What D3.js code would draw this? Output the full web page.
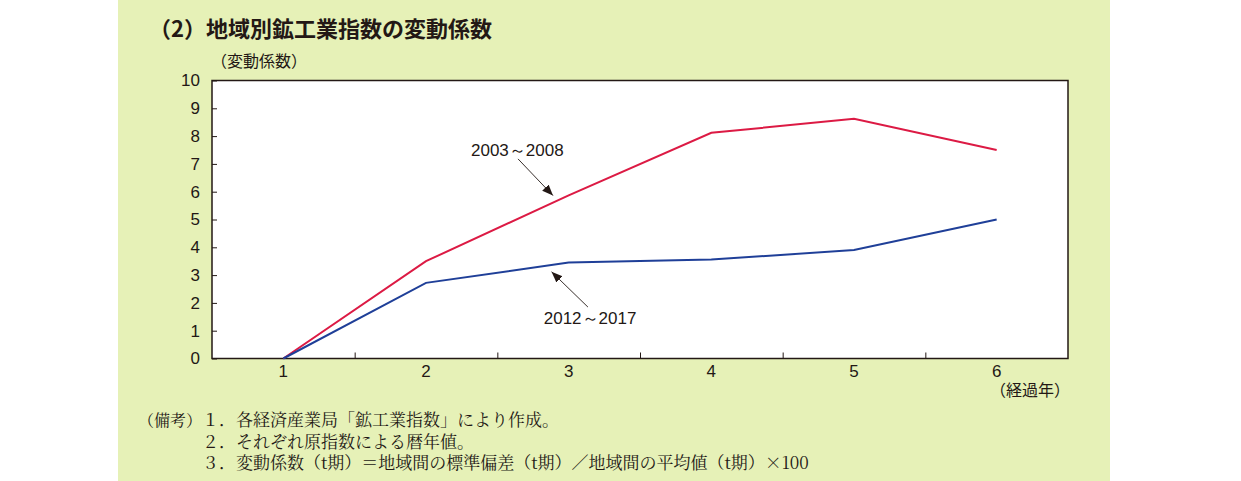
<!DOCTYPE html>
<html>
<head>
<meta charset="utf-8">
<script src="https://cdn.jsdelivr.net/npm/d3@7"></script>
<style>
  body { margin: 0; background: #fff; }
  svg text { fill: #231815; }
  .num { font-family: "Liberation Sans", Arial, sans-serif; font-size: 17px; }
  .jp  { font-family: "Noto Sans CJK JP", sans-serif; }
  .note { font-family: "Noto Serif CJK JP", "Noto Sans CJK JP", serif; font-size: 17px; }
</style>
</head>
<body>
<svg id="chart" width="1241" height="481"></svg>
<script>
// data
const years    = [1, 2, 3, 4, 5, 6];
const s2003    = [0, 3.5, 5.87, 8.12, 8.62, 7.5];
const s2012    = [0, 2.72, 3.45, 3.56, 3.9, 5.0];
const yTicks   = [0, 1, 2, 3, 4, 5, 6, 7, 8, 9, 10];
const xMinor   = [1.5, 2.5, 3.5, 4.5, 5.5];
const seriesNames = ["2003～2008", "2012～2017"];
// annotation positions in data units: label x,y / arrow from / arrow to
const annLabel = [[2.64, 7.28], [3.15, 1.24]];
const annFrom  = [[2.645, 7.18], [3.135, 1.85]];
const annTo    = [[2.89, 5.86], [2.88, 3.12]];
const notes = [
  "１．各経済産業局「鉱工業指数」により作成。",
  "２．それぞれ原指数による暦年値。",
  "３．変動係数（t期）＝地域間の標準偏差（t期）／地域間の平均値（t期）×100"
];

const svg = d3.select('#chart');

// green panel
svg.append('rect')
  .attr('x', 118).attr('y', 0)
  .attr('width', 992).attr('height', 481)
  .attr('fill', '#e6f1b7');

svg.append('text')
  .attr('class', 'jp')
  .attr('x', 149).attr('y', 37)
  .style('font-size', '22px')
  .style('font-weight', 700)
  .text('（2）地域別鉱工業指数の変動係数');

const L = 212, R = 1068, T = 80.5, B = 358.5;
const x = d3.scaleLinear().domain([0.5, 6.5]).range([L, R]);
const y = d3.scaleLinear().domain([0, 10]).range([B, T]);

svg.append('rect')
  .attr('x', L).attr('y', T)
  .attr('width', R - L).attr('height', B - T)
  .attr('fill', '#fff')
  .attr('stroke', '#231815')
  .attr('stroke-width', 1.5);

// y axis, ticks inward
const gy = svg.append('g')
  .attr('transform', 'translate(' + L + ',0)')
  .call(d3.axisLeft(y).tickValues(yTicks).tickSize(-5).tickPadding(12).tickFormat(d3.format('d')));
gy.select('.domain').remove();
gy.selectAll('line').attr('stroke', '#231815');
gy.selectAll('text').attr('class', 'num').attr('fill', '#231815').style('font-size', '17px').style('font-family', '"Liberation Sans", Arial, sans-serif');

// x axis: minor ticks inward at half steps, labels at integers
const gx = svg.append('g')
  .attr('transform', 'translate(0,' + B + ')')
  .call(d3.axisBottom(x).tickValues(xMinor).tickSize(-6).tickFormat(''));
gx.select('.domain').remove();
gx.selectAll('line').attr('stroke', '#231815');

svg.append('g').selectAll('text')
  .data(years).join('text')
  .attr('class', 'num')
  .attr('x', d => x(d))
  .attr('y', B + 18)
  .attr('text-anchor', 'middle')
  .text(d => d);

svg.append('text')
  .attr('class', 'jp')
  .attr('x', L - 1).attr('y', 67)
  .style('font-size', '16px')
  .text('（変動係数）');

svg.append('text')
  .attr('class', 'jp')
  .attr('x', R + 2).attr('y', 396)
  .attr('text-anchor', 'end')
  .style('font-size', '16px')
  .text('（経過年）');

// lines
const line = d3.line()
  .x((d, i) => x(years[i]))
  .y(d => y(d));

svg.append('path').datum(s2003)
  .attr('fill', 'none')
  .attr('stroke', '#dc1a44')
  .attr('stroke-width', 2)
  .attr('d', line);

svg.append('path').datum(s2012)
  .attr('fill', 'none')
  .attr('stroke', '#1f3f98')
  .attr('stroke-width', 2)
  .attr('d', line);

// arrows + labels
svg.append('defs').append('marker')
  .attr('id', 'arr')
  .attr('viewBox', '0 0 10 10')
  .attr('refX', 10).attr('refY', 5)
  .attr('markerWidth', 11).attr('markerHeight', 11)
  .attr('markerUnits', 'userSpaceOnUse')
  .attr('orient', 'auto')
  .append('path')
  .attr('d', 'M0,1 L10,5 L0,9 Z')
  .attr('fill', '#231815');

seriesNames.forEach((name, i) => {
  svg.append('line')
    .attr('x1', x(annFrom[i][0])).attr('y1', y(annFrom[i][1]))
    .attr('x2', x(annTo[i][0])).attr('y2', y(annTo[i][1]))
    .attr('stroke', '#231815')
    .attr('stroke-width', 0.9)
    .attr('marker-end', 'url(#arr)');
  svg.append('text')
    .attr('class', 'num')
    .attr('x', x(annLabel[i][0]))
    .attr('y', y(annLabel[i][1]))
    .attr('text-anchor', 'middle')
    .text(name);
});

// notes
svg.append('text')
  .attr('class', 'note')
  .attr('x', 138).attr('y', 426)
  .style('font-size', '16px')
  .text('（備考）');

svg.append('g').selectAll('text')
  .data(notes).join('text')
  .attr('class', 'note')
  .attr('x', 202)
  .attr('y', (d, i) => 426 + i * 21.5)
  .text(d => d);
</script>
</body>
</html>
